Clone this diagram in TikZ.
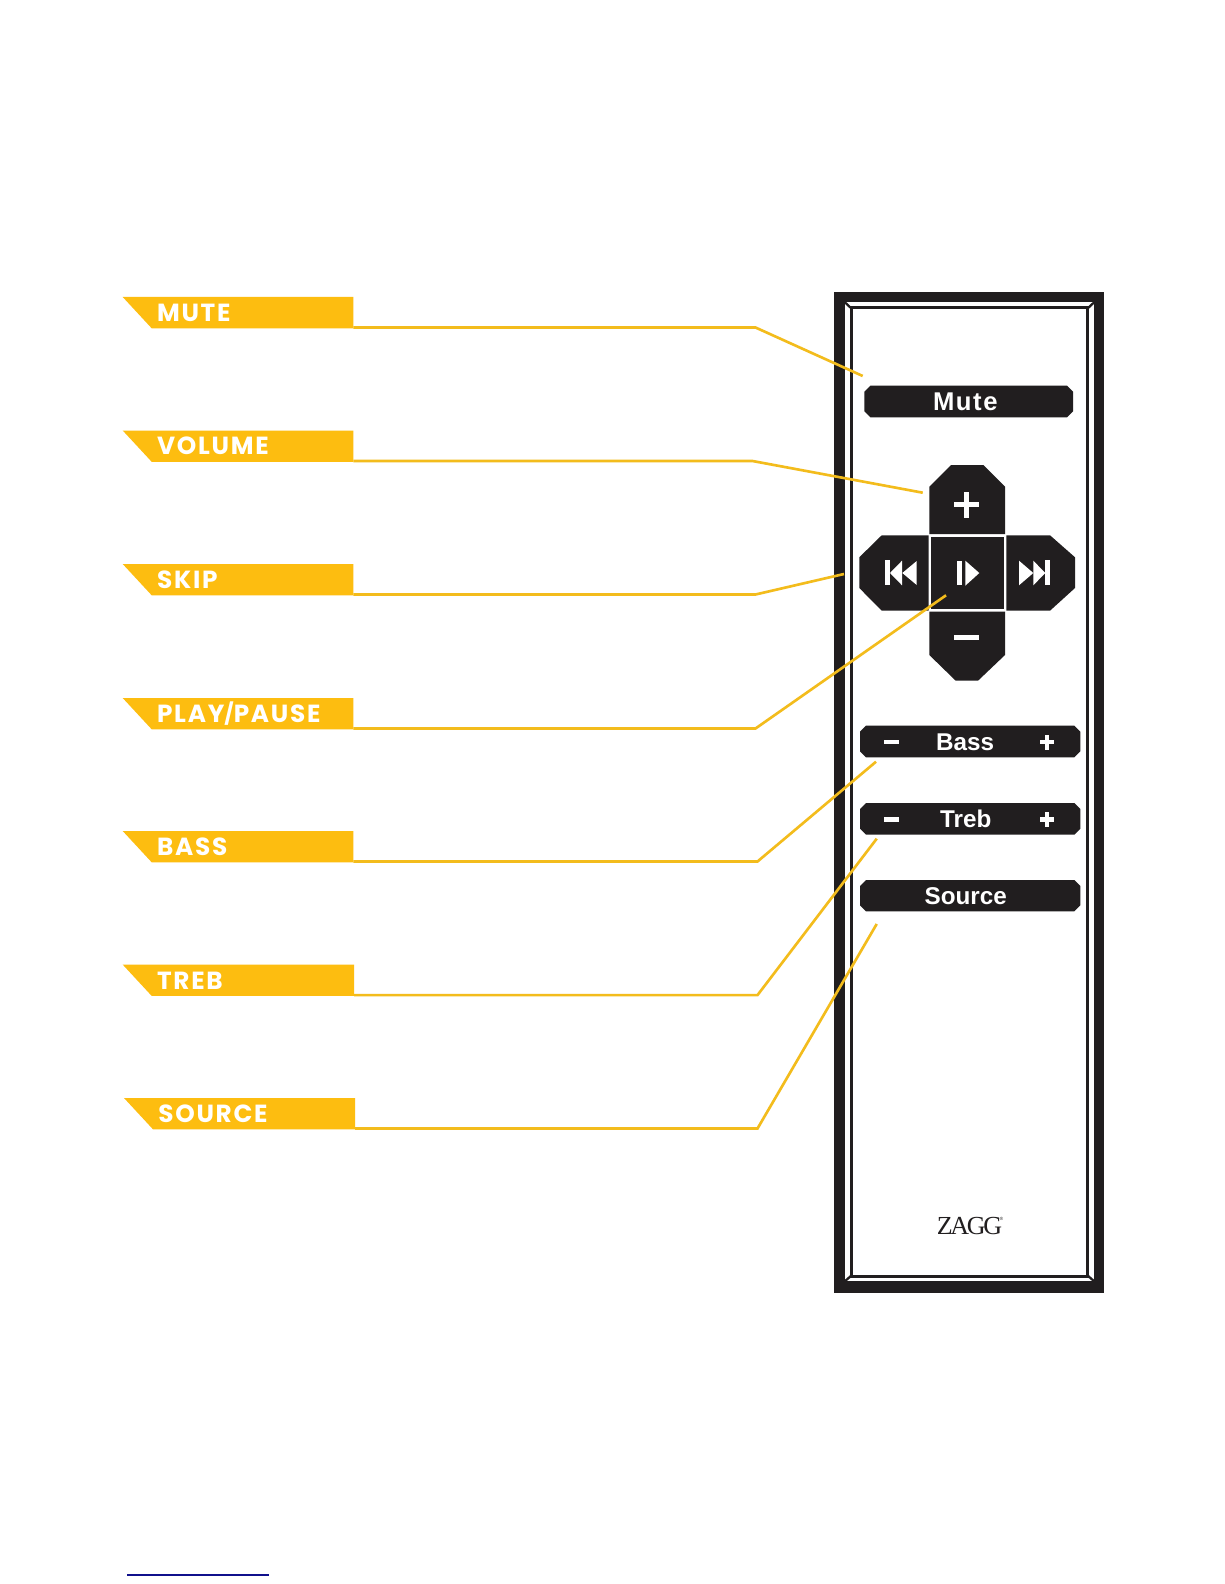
\documentclass[tikz,border=0pt]{standalone}
\usepackage{fontspec}
\setmainfont{Liberation Sans}
\newfontfamily\bannerfont[LetterSpace=7]{Poppins}
\newfontfamily\mutefont[LetterSpace=6]{Liberation Sans}
\newfontfamily\logofont[LetterSpace=-9]{Liberation Serif}
\definecolor{ink}{HTML}{211E1F}
\definecolor{gold}{HTML}{FDBD10}
\definecolor{wire}{HTML}{F3BC1C}
\definecolor{linkblue}{HTML}{10108C}
\tikzset{
  inkfill/.style={fill=ink,draw=none},
  paper/.style={fill=white,draw=none},
  bannerbox/.style={fill=gold,draw=none},
  bannertext/.style={anchor=base west,inner sep=0pt,text=white,font=\bannerfont\fontsize{14.1}{15}\selectfont\bfseries},
  btntext/.style={anchor=base,inner sep=0pt,text=white,font=\fontsize{13.8}{15}\selectfont\bfseries},
  wireline/.style={draw=wire,line width=1.5pt,line join=miter},
  mitre/.style={draw=ink,line width=1.3pt}
}
% rounded-off control bar: x1 x2 y1 y2
\newcommand{\ctrlbar}[4]{\fill[inkfill] (#1+6,#3) -- (#2-6,#3) -- (#2,#3+6) -- (#2,#4-6) -- (#2-6,#4) -- (#1+6,#4) -- (#1,#4-6) -- (#1,#3+6) -- cycle;}
% minus and plus in a bar at vertical centre y
\newcommand{\barsigns}[1]{
  \fill[paper] (884,#1-2.2) rectangle (898.7,#1+2.2);
  \fill[paper] (1040,#1-2.2) rectangle (1054,#1+2.2);
  \fill[paper] (1044.6,#1-7.5) rectangle (1049.4,#1+7.5);
}
% banner: name, left x, top y, right x, text
\newcommand{\banner}[5]{
  \fill[bannerbox] (#2,#3) -- (#4,#3) -- (#4,#3+31.3) -- (#2+29,#3+31.3) -- cycle;
  \node[bannertext] (#1) at (#2+34,#3+24.4) {#5};
  \coordinate (#1-end) at (#4,#3+30.5);
}
\begin{document}
\begin{tikzpicture}[x=0.02cm,y=-0.02cm]
\useasboundingbox (0,0) rectangle (1224,1584);
\fill[white] (0,0) rectangle (1224,1584);

% frame
\fill[inkfill] (834,292) rectangle (1104,1293);
\fill[paper] (845,302.5) rectangle (1094,1281);
\fill[inkfill] (850,306) rectangle (1089,1278);
\fill[paper] (852.5,309) rectangle (1086,1275);
\draw[mitre] (844,301.5) -- (852,309);
\draw[mitre] (1095,301.5) -- (1087,309);
\draw[mitre] (844,1282) -- (852,1275);
\draw[mitre] (1095,1282) -- (1087,1275);

% bars
\ctrlbar{864.3}{1073}{385.7}{417.3}
\node[btntext,font=\mutefont\fontsize{14.6}{15}\selectfont\bfseries] (mutebtn) at (965.3,411) {Mute};
\ctrlbar{860}{1080.3}{725.7}{757.3}
\node[btntext] (bassbtn) at (965,750) {Bass};
\barsigns{742.2}
\ctrlbar{860}{1080.3}{803}{834.7}
\node[btntext] (trebbtn) at (965.7,827.5) {Treb};
\barsigns{819.5}
\ctrlbar{860}{1080.3}{880}{911.3}
\node[btntext] (sourcebtn) at (965.7,904.5) {Source};

% direction pad
\fill[inkfill] (951,465) -- (983.3,465) -- (1005,486.7) -- (1005,534) -- (929.3,534) -- (929.3,486.7) -- cycle;
\fill[inkfill] (881.7,535.3) -- (928.7,535.3) -- (928.7,610.7) -- (881.7,610.7) -- (859.3,588) -- (859.3,557.3) -- cycle;
\fill[inkfill] (1006.3,535.3) -- (1050,535.3) -- (1075,557.3) -- (1075,588) -- (1050,610.7) -- (1006.3,610.7) -- cycle;
\fill[inkfill] (929.3,611.7) -- (1005,611.7) -- (1005,655) -- (978,680.7) -- (955.7,680.7) -- (929.3,655) -- cycle;
\fill[inkfill] (930.7,536.7) rectangle (1003.7,609);

% plus, minus
\fill[paper] (954,502.3) rectangle (979.3,507.3);
\fill[paper] (964,492.3) rectangle (969.3,517.7);
\fill[paper] (954,635) rectangle (979.3,640.3);
% play/pause
\fill[paper] (957,560.7) rectangle (962,585.3);
\fill[paper] (965.3,560.7) -- (979.3,573) -- (965.3,585.7) -- cycle;
% previous
\fill[paper] (885.3,560.3) rectangle (890,585.3);
\fill[paper] (890,573) -- (902,560.7) -- (902,585.3) -- cycle;
\fill[paper] (902.3,573) -- (916.7,561) -- (916.7,585) -- cycle;
% next
\fill[paper] (1019,560.7) -- (1033.3,573) -- (1019,585.3) -- cycle;
\fill[paper] (1033.3,560.7) -- (1045.3,573) -- (1033.3,585.3) -- cycle;
\fill[paper] (1045.3,560.3) rectangle (1050.3,585.3);

% logo
\node[anchor=base west,inner sep=0pt,text=ink,font=\logofont\fontsize{14.8}{15}\selectfont] (logo) at (936.5,1234) {ZAGG};
\node[anchor=base west,inner sep=0pt,text=ink,font=\fontsize{2.6}{3}\selectfont] (logoreg) at (999.5,1220) {®};

% banners
\banner{lmute}{122.7}{297}{353.3}{MUTE}
\banner{lvolume}{122.7}{430.5}{353.3}{VOLUME}
\banner{lskip}{122.7}{564}{353.3}{SKIP}
\banner{lplay}{122.7}{698}{353.3}{PLAY{\fontsize{11.8}{12}\selectfont\raisebox{0.5pt}{/}}PAUSE}
\banner{lbass}{122.7}{831}{353.3}{BASS}
\banner{ltreb}{122.7}{964.6}{354}{TREB}
\banner{lsource}{124}{1098}{355}{SOURCE}

% connector ends and bends
\coordinate (bmute) at (755.5,327.5);
\coordinate (emute) at (862.7,376);
\coordinate (bvolume) at (752.5,461);
\coordinate (evolume) at (922.7,492.7);
\coordinate (bskip) at (755.5,594.5);
\coordinate (eskip) at (844,574);
\coordinate (bplay) at (755.5,728.5);
\coordinate (eplay) at (946,595.3);
\coordinate (bbass) at (757.5,861.5);
\coordinate (ebass) at (876,761.7);
\coordinate (btreb) at (757.5,995.1);
\coordinate (etreb) at (876.7,838.7);
\coordinate (bsource) at (757.5,1128.5);
\coordinate (esource) at (876.7,924);

\draw[wireline] (lmute-end) -- (bmute) -- (emute);
\draw[wireline] (lvolume-end) -- (bvolume) -- (evolume);
\draw[wireline] (lskip-end) -- (bskip) -- (eskip);
\draw[wireline] (lplay-end) -- (bplay) -- (eplay);
\draw[wireline] (lbass-end) -- (bbass) -- (ebass);
\draw[wireline] (ltreb-end) -- (btreb) -- (etreb);
\draw[wireline] (lsource-end) -- (bsource) -- (esource);

% rule at the foot of the page
\fill[linkblue] (127.3,1574.3) rectangle (268.7,1575.9);
\end{tikzpicture}
\end{document}
